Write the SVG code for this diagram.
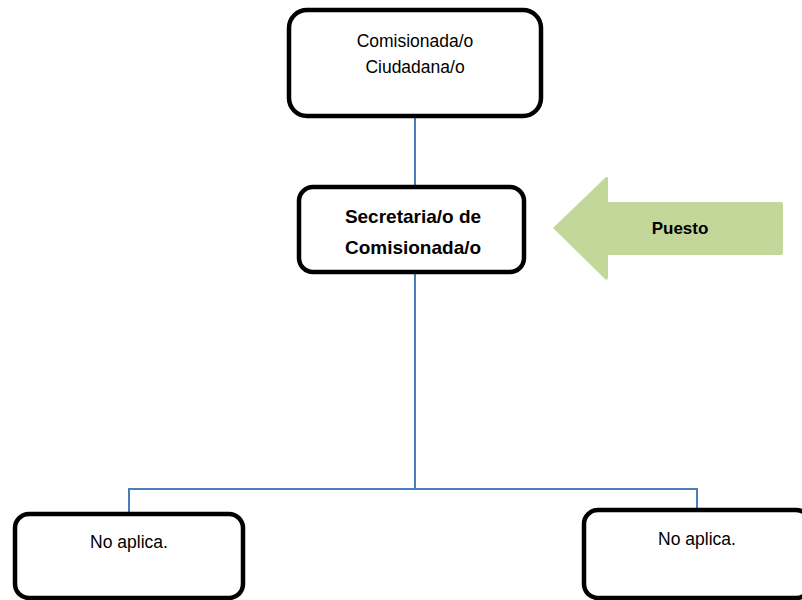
<svg xmlns="http://www.w3.org/2000/svg" width="802" height="600" viewBox="0 0 802 600">
<style>
.box{fill:#fff;stroke:#000;stroke-width:4.5}
.t{font-family:"Liberation Sans",Arial,sans-serif;font-size:17.5px;fill:#000;text-anchor:middle}
.b{font-weight:bold;font-size:19px}
.p{font-weight:bold;font-size:17px}
.conn{fill:none;stroke:#4a7ebb;stroke-width:2}
</style>
<rect width="802" height="600" fill="#fff"/>
<g id="connectors">
<line class="conn" x1="415" y1="117" x2="415" y2="187"/>
<line class="conn" x1="415" y1="272" x2="415" y2="489"/>
<polyline class="conn" points="129,514 129,489 697,489 697,510"/>
</g>
<g id="n-comisionada">
<rect class="box" x="289" y="10" width="252" height="106" rx="18"/>
<text class="t" x="415" y="47">Comisionada/o</text>
<text class="t" x="415" y="73">Ciudadana/o</text>
</g>
<g id="n-secretaria">
<rect class="box" x="299" y="187" width="225" height="85" rx="14"/>
<text class="t b" x="413" y="223">Secretaria/o de</text>
<text class="t b" x="413" y="254">Comisionada/o</text>
</g>
<g id="n-puesto">
<path d="M553,228 L606,177 Q608,176 608,179 L608,202 L781,202 Q783,202 783,204 L783,253 Q783,255 781,255 L608,255 L608,277 Q608,281 605,279 Z" fill="#c4d79b"/>
<text class="t p" x="680" y="234">Puesto</text>
</g>
<g id="n-noaplica-left">
<rect class="box" x="15" y="514" width="228" height="84" rx="14"/>
<text class="t" x="129" y="548">No aplica.</text>
</g>
<g id="n-noaplica-right">
<rect class="box" x="584" y="510" width="226" height="88" rx="14"/>
<text class="t" x="697" y="545">No aplica.</text>
</g>
</svg>
